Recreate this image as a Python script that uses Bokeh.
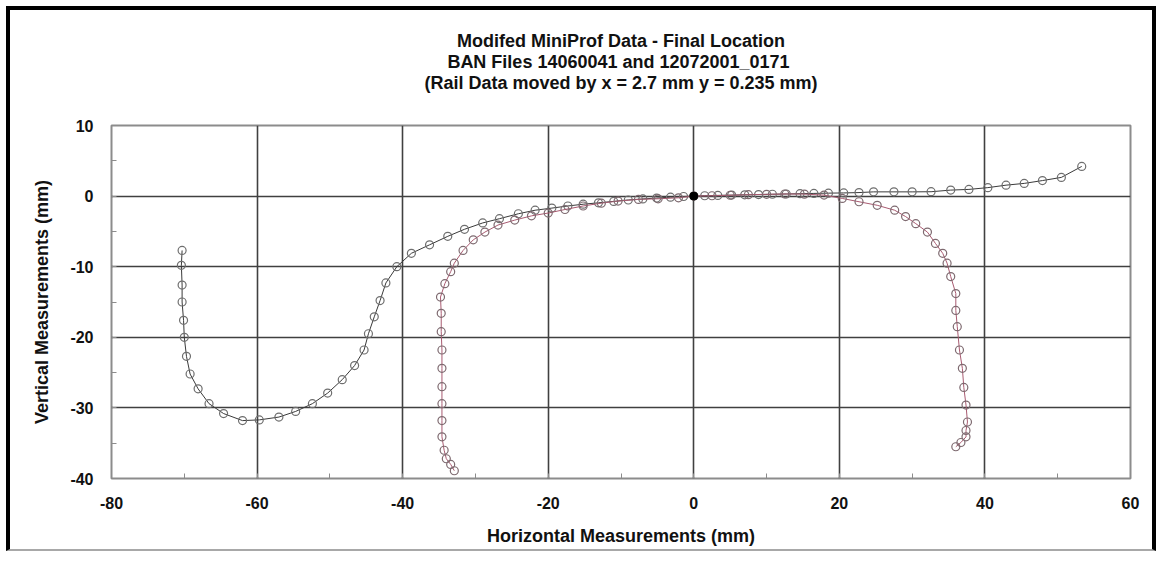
from bokeh.plotting import figure
from bokeh.models import Title, SingleIntervalTicker, Range1d, PrintfTickFormatter
from bokeh.embed import file_html
from bokeh.resources import INLINE

# ---------------- data ----------------
title_lines = [
    "Modifed MiniProf Data - Final Location",
    "BAN Files 14060041 and  12072001_0171",
    "(Rail Data moved by x = 2.7 mm y = 0.235 mm)",
]
x_label = "Horizontal Measurements (mm)"
y_label = "Vertical Measurements (mm)"

wheel_x = [-70.3, -70.4, -70.3, -70.3, -70.1, -70.0, -69.7, -69.2, -68.1, -66.6,
           -64.6, -62.0, -59.7, -57.0, -54.7, -52.4, -50.3, -48.3, -46.6, -45.3,
           -44.7, -43.9, -43.1, -42.3, -40.8, -38.8, -36.3, -33.8, -31.5, -29.0,
           -26.7, -24.1, -21.8, -19.5, -17.3, -15.2, -13.1, -11.0, -9.0, -7.0,
           -5.1, -3.2, -1.4, 0.0, 1.5, 3.3, 5.2, 7.0, 8.9, 10.8,
           12.7, 14.6, 16.5, 18.5, 20.6, 22.7, 24.7, 27.5, 30.0, 32.6,
           35.3, 37.8, 40.4, 42.9, 45.4, 47.9, 50.5, 53.3]
wheel_y = [-7.7, -9.8, -12.6, -15.0, -17.6, -20.0, -22.7, -25.2, -27.3, -29.4,
           -30.8, -31.8, -31.7, -31.3, -30.5, -29.4, -27.9, -26.0, -24.0, -21.8,
           -19.5, -17.1, -14.8, -12.3, -10.0, -8.1, -6.9, -5.7, -4.7, -3.8,
           -3.2, -2.5, -2.0, -1.7, -1.4, -1.15, -0.95, -0.75, -0.55, -0.4,
           -0.28, -0.15, -0.06, 0.0, 0.05, 0.1, 0.14, 0.18, 0.22, 0.26,
           0.3, 0.34, 0.38, 0.42, 0.45, 0.5, 0.6, 0.6, 0.6, 0.62,
           0.85, 0.95, 1.2, 1.55, 1.8, 2.2, 2.65, 4.2]

rail_x = [-32.9, -33.4, -34.0, -34.3, -34.6, -34.6, -34.6, -34.6, -34.6, -34.6,
          -34.7, -34.7, -34.8, -34.2, -33.4, -32.9, -31.7, -30.3, -28.7, -26.9,
          -24.6, -22.3, -20.0, -17.7, -15.2, -12.7, -10.4, -7.6, -4.9, -2.1,
          0.0, 2.5, 5.0, 7.5, 10.0, 12.5, 15.2, 17.9, 20.4, 22.7,
          25.2, 27.6, 29.1, 30.5, 32.1, 33.2, 34.2, 34.8, 35.3, 36.0,
          36.0, 36.2, 36.5, 36.9, 37.1, 37.4, 37.6, 37.4, 37.4, 36.7, 36.0]
rail_y = [-38.9, -38.0, -37.2, -36.0, -34.1, -31.8, -29.4, -27.0, -24.4, -21.8,
          -19.2, -16.6, -14.3, -12.4, -10.7, -9.5, -7.7, -6.2, -5.1, -4.1,
          -3.4, -2.8, -2.4, -1.9, -1.4, -1.0, -0.7, -0.47, -0.38, -0.24,
          0.0, 0.05, 0.12, 0.2, 0.25, 0.3, 0.28, 0.14, -0.33, -0.8,
          -1.3, -2.0, -2.9, -3.9, -5.1, -6.7, -8.1, -9.5, -11.4, -13.8,
          -16.2, -18.5, -21.8, -24.4, -27.1, -29.6, -32.0, -33.2, -34.1, -34.9, -35.5]

origin_x = [0.0]
origin_y = [0.0]

# ---------------- figure ----------------
FONT = "Liberation Sans"
W, H = 1150, 545
p = figure(width=W, height=H, output_backend="svg", toolbar_location=None,
           x_range=Range1d(-80, 60), y_range=Range1d(-40, 10),
           min_border_left=101, min_border_right=30,
           min_border_top=115, min_border_bottom=77,
           background_fill_color="white", border_fill_color="white",
           styles={"margin-left": "6px", "margin-top": "6px",
                   "border-left": "4px solid black",
                   "border-top": "4px solid black",
                   "border-right": "4px solid black",
                   "border-bottom": "2px solid #a8a8a8"})
p.title.visible = False

p.outline_line_color = "#8c8c8c"
p.outline_line_width = 2

for ax, interval in ((p.xaxis[0], 20), (p.yaxis[0], 10)):
    ax.ticker = SingleIntervalTicker(interval=interval, num_minor_ticks=2)
    ax.formatter = PrintfTickFormatter(format="%d")
    ax.axis_line_color = None
    ax.major_tick_in = 0
    ax.major_tick_out = 0
    ax.minor_tick_in = 5
    ax.minor_tick_out = 0
    ax.minor_tick_line_color = "#8c8c8c"
    ax.minor_tick_line_width = 1
    ax.major_label_text_font = FONT
    ax.major_label_text_font_style = "bold"
    ax.major_label_text_font_size = "16px"
    ax.major_label_text_color = "#111111"
    ax.axis_label_text_font = FONT
    ax.axis_label_text_font_style = "bold"
    ax.axis_label_text_font_size = "18px"
    ax.axis_label_text_color = "#111111"

p.xaxis.axis_label = x_label
p.yaxis.axis_label = y_label
p.xaxis.major_label_standoff = 18
p.yaxis.major_label_standoff = 18
p.xaxis.axis_label_standoff = 14
p.yaxis.axis_label_standoff = 15

for g in (p.xgrid[0], p.ygrid[0]):
    g.grid_line_color = "#404040"
    g.grid_line_width = 1.6
p.xgrid.ticker = SingleIntervalTicker(interval=20)
p.ygrid.ticker = SingleIntervalTicker(interval=10)

# series
p.line(wheel_x, wheel_y, line_color="#3a3a3a", line_width=1)
p.scatter(wheel_x, wheel_y, marker="circle", size=8, fill_color=None,
          line_color="#6e6e6e", line_width=1.2)
p.line(rail_x, rail_y, line_color="#a85a70", line_width=1)
p.scatter(rail_x, rail_y, marker="circle", size=8, fill_color=None,
          line_color="#7e6a70", line_width=1.2)
p.scatter(origin_x, origin_y, marker="circle", size=8, fill_color="black",
          line_color="black")

# title lines (stacked above the frame; nearest first)
p.add_layout(Title(text=" ", text_font=FONT, text_font_size="16px",
                   standoff=14), "above")
for txt in reversed(title_lines):
    p.add_layout(Title(text=txt, align="center", text_font=FONT,
                       text_font_style="bold", text_font_size="18px",
                       text_color="#111111", standoff=-1), "above")

open("out.html", "w").write(file_html(p, INLINE))
